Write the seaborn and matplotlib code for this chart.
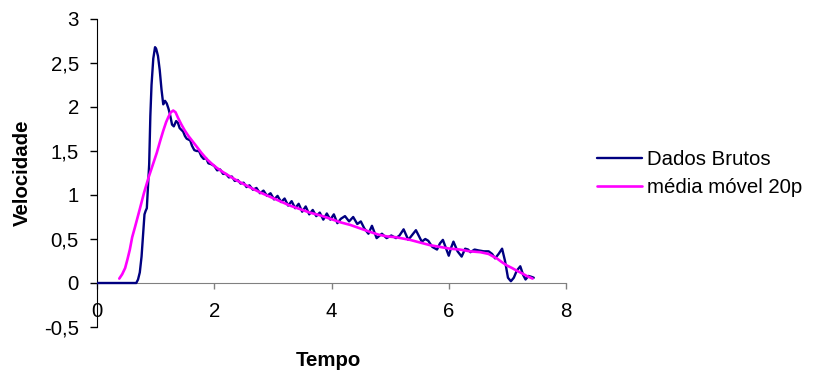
import matplotlib
matplotlib.use("Agg")
import matplotlib.pyplot as plt
import seaborn as sns

# raw velocity readings
tempo_bruto = [0.0, 0.67, 0.70, 0.73, 0.76, 0.79, 0.81, 0.83, 0.85, 0.87, 0.89, 0.91, 0.93, 0.96, 0.99,
               1.01, 1.04, 1.07, 1.10, 1.13, 1.16, 1.19, 1.22, 1.25, 1.28, 1.31, 1.35, 1.38, 1.41, 1.44,
               1.47, 1.50, 1.53, 1.56, 1.59, 1.62, 1.66, 1.70, 1.74, 1.78, 1.82, 1.86, 1.90, 1.95, 2.00,
               2.05, 2.10, 2.15, 2.20, 2.25, 2.30, 2.35, 2.40, 2.45, 2.50, 2.55, 2.60, 2.66, 2.72, 2.78,
               2.84, 2.90, 2.96, 3.02, 3.08, 3.14, 3.20, 3.26, 3.32, 3.38, 3.44, 3.50, 3.56, 3.62, 3.68,
               3.74, 3.80, 3.86, 3.92, 3.98, 4.04, 4.10, 4.16, 4.23, 4.30, 4.37, 4.44, 4.50, 4.56, 4.63,
               4.69, 4.77, 4.86, 4.94, 5.02, 5.10, 5.16, 5.23, 5.31, 5.37, 5.44, 5.54, 5.60, 5.65, 5.72,
               5.80, 5.85, 5.90, 5.95, 6.00, 6.04, 6.08, 6.15, 6.22, 6.28, 6.33, 6.37, 6.44, 6.51, 6.60,
               6.68, 6.74, 6.79, 6.85, 6.91, 6.96, 7.01, 7.06, 7.11, 7.16, 7.22, 7.27, 7.31, 7.36, 7.41,
               7.45]
vel_bruto = [0.0, 0.0, 0.04, 0.12, 0.30, 0.58, 0.78, 0.82, 0.85, 1.10, 1.35, 1.90, 2.25, 2.55, 2.68,
             2.66, 2.58, 2.42, 2.20, 2.03, 2.07, 2.04, 1.98, 1.90, 1.80, 1.78, 1.84, 1.82, 1.76, 1.74,
             1.72, 1.67, 1.64, 1.63, 1.62, 1.56, 1.51, 1.50, 1.50, 1.44, 1.41, 1.42, 1.36, 1.35, 1.33,
             1.28, 1.29, 1.24, 1.24, 1.20, 1.21, 1.16, 1.17, 1.13, 1.14, 1.09, 1.11, 1.06, 1.08, 1.02,
             1.05, 0.99, 1.02, 0.95, 0.99, 0.92, 0.96, 0.88, 0.93, 0.85, 0.90, 0.81, 0.87, 0.78, 0.83,
             0.76, 0.80, 0.72, 0.79, 0.72, 0.78, 0.68, 0.73, 0.76, 0.70, 0.75, 0.67, 0.70, 0.62, 0.56,
             0.65, 0.51, 0.56, 0.51, 0.54, 0.51, 0.54, 0.61, 0.49, 0.54, 0.60, 0.47, 0.50, 0.48, 0.41,
             0.38, 0.45, 0.49, 0.40, 0.31, 0.40, 0.47, 0.36, 0.30, 0.39, 0.38, 0.35, 0.38, 0.37, 0.36,
             0.36, 0.33, 0.28, 0.33, 0.39, 0.25, 0.06, 0.02, 0.06, 0.14, 0.19, 0.09, 0.04, 0.08, 0.07,
             0.06]

# 20 point moving average
tempo_media = [0.38, 0.43, 0.48, 0.52, 0.56, 0.60, 0.65, 0.73, 0.80, 0.88, 0.95, 1.02, 1.08, 1.13, 1.18,
               1.22, 1.26, 1.30, 1.34, 1.38, 1.44, 1.50, 1.56, 1.63, 1.70, 1.78, 1.87, 1.95, 2.04, 2.15,
               2.27, 2.40, 2.60, 2.78, 2.95, 3.12, 3.29, 3.46, 3.63, 3.80, 3.98, 4.15, 4.32, 4.49, 4.66,
               4.80, 4.94, 5.10, 5.34, 5.51, 5.68, 5.85, 6.02, 6.19, 6.36, 6.54, 6.68, 6.76, 6.82, 6.90,
               6.99, 7.08, 7.16, 7.25, 7.33, 7.43]
vel_media = [0.05, 0.10, 0.17, 0.27, 0.38, 0.52, 0.64, 0.84, 1.02, 1.20, 1.34, 1.48, 1.62, 1.73, 1.83,
             1.89, 1.94, 1.96, 1.94, 1.88, 1.80, 1.73, 1.67, 1.61, 1.55, 1.48, 1.41, 1.36, 1.31, 1.26,
             1.21, 1.16, 1.09, 1.03, 0.98, 0.93, 0.88, 0.84, 0.80, 0.77, 0.73, 0.69, 0.66, 0.62, 0.58,
             0.55, 0.53, 0.52, 0.49, 0.46, 0.43, 0.41, 0.39, 0.38, 0.36, 0.35, 0.33, 0.30, 0.28, 0.24,
             0.20, 0.17, 0.14, 0.11, 0.08, 0.05]

y_ticks = [-0.5, 0, 0.5, 1, 1.5, 2, 2.5, 3]
y_tick_labels = ["-0,5", "0", "0,5", "1", "1,5", "2", "2,5", "3"]
x_ticks = [0, 2, 4, 6, 8]
x_tick_labels = ["0", "2", "4", "6", "8"]

sns.set_style("white")
plt.rcParams["font.family"] = ["Liberation Sans", "DejaVu Sans"]
plt.rcParams["text.color"] = "black"
plt.rcParams["axes.labelcolor"] = "black"
plt.rcParams["xtick.color"] = "black"
plt.rcParams["ytick.color"] = "black"
fs = 14.7

fig = plt.figure(figsize=(8.14, 3.77), dpi=100)
ax = fig.add_axes([97 / 814, 1 - 327 / 377, 469 / 814, 308 / 377])

sns.lineplot(x=tempo_bruto, y=vel_bruto, ax=ax, color="#000080", lw=1.7,
             estimator=None, sort=False, label="Dados Brutos", zorder=3)
sns.lineplot(x=tempo_media, y=vel_media, ax=ax, color="#FF00FF", lw=1.9,
             estimator=None, sort=False, label="média móvel 20p", zorder=4)

# move x axis to y=0 first, it resets the ticks
ax.spines["top"].set_visible(False)
ax.spines["right"].set_visible(False)
ax.spines["bottom"].set_position(("data", 0))
ax.spines["bottom"].set_color("#808080")
ax.spines["left"].set_color("black")

ax.set_xlim(0, 8)
ax.set_ylim(-0.5, 3)
ax.set_xticks(x_ticks)
ax.set_xticklabels(x_tick_labels)
ax.set_yticks(y_ticks)
ax.set_yticklabels(y_tick_labels)
ax.tick_params(axis="x", direction="out", length=4, width=1, color="#808080",
               labelcolor="black", labelsize=fs, pad=10, bottom=True)
ax.tick_params(axis="y", direction="out", length=5, width=1, color="black",
               labelcolor="black", labelsize=fs, pad=8, left=True)

ax.set_xlabel("Tempo", fontsize=fs, fontweight="bold", color="black")
ax.xaxis.label.set_va("center")
ax.xaxis.set_label_coords(0.4925, -0.11)
ax.set_ylabel("Velocidade", fontsize=fs, fontweight="bold", color="black")
ax.yaxis.label.set_va("center")
ax.yaxis.set_label_coords(-0.16, 0.5)

ax.legend(loc="center left", bbox_to_anchor=(597 / 814, 1 - 173.5 / 377),
          bbox_transform=fig.transFigure, frameon=False, fontsize=fs,
          handlelength=2.2, handletextpad=0.25, labelspacing=0.45,
          borderpad=0, borderaxespad=0)

fig.savefig("out.png", dpi=100)
